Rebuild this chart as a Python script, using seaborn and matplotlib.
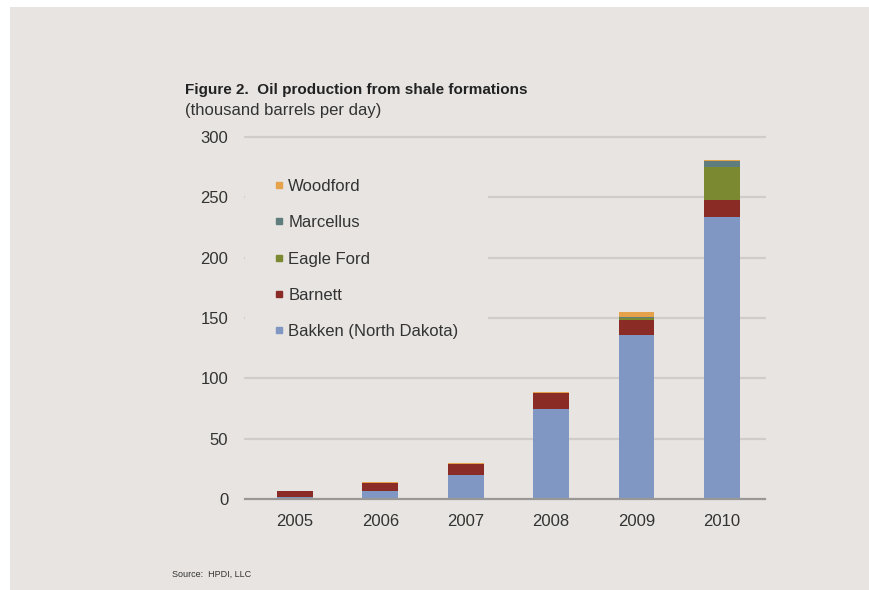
import numpy as np
import pandas as pd
import matplotlib
matplotlib.use("Agg")
import matplotlib.pyplot as plt
from matplotlib.lines import Line2D
from matplotlib.patches import Rectangle
import seaborn as sns

years = ["2005", "2006", "2007", "2008", "2009", "2010"]
bakken = [2, 7, 20, 75, 136, 234]
barnett = [5, 6, 9, 13, 12, 14]
eagle_ford = [0, 0, 0, 0, 2, 27]
marcellus = [0, 0, 0, 0, 1, 5]
woodford = [0, 1, 1, 1, 4, 1]

series = ["Bakken (North Dakota)", "Barnett", "Eagle Ford", "Marcellus", "Woodford"]
colors = ["#7f97c2", "#8a2b26", "#7b8a30", "#5e7d7c", "#e6a24a"]

df = pd.DataFrame({"year": years, "Bakken (North Dakota)": bakken, "Barnett": barnett,
                   "Eagle Ford": eagle_ford, "Marcellus": marcellus, "Woodford": woodford})

sns.set_style("white")
plt.rcParams["font.family"] = ["Liberation Sans", "DejaVu Sans"]

panel = "#e7e4e1"
txt = "#333333"

fig = plt.figure(figsize=(8.7, 5.9), dpi=100, facecolor="white")
fig.patches.append(Rectangle((10 / 870, 0), 1, 1 - 7 / 590, transform=fig.transFigure,
                             facecolor=panel, edgecolor="none", zorder=-5))

ax = fig.add_axes([245 / 870, 1 - 499 / 590, 520 / 870, 362 / 590])
ax.set_facecolor(panel)

bottom = np.zeros(len(years))
for name, col in zip(series, colors):
    sns.barplot(data=df, x="year", y=name, color=col, width=0.42, bottom=bottom,
                saturation=1, linewidth=0, ax=ax, zorder=3)
    bottom = bottom + df[name].to_numpy()

ax.set_ylim(0, 300)
ax.set_xlim(-0.585, 5.505)
ax.set_yticks([0, 50, 100, 150, 200, 250, 300])
ax.set_xlabel("")
ax.set_ylabel("")
for y in [50, 100, 150, 200, 250, 300]:
    ax.axhline(y, color="#cfccc9", lw=1.6, zorder=1, clip_on=False)
for s in ["top", "right", "left"]:
    ax.spines[s].set_visible(False)
ax.spines["bottom"].set_color("#9a9896")
ax.spines["bottom"].set_linewidth(1.6)
ax.spines["bottom"].set_zorder(4)
ax.tick_params(axis="y", length=0, pad=12, labelsize=12, labelcolor=txt)
ax.tick_params(axis="x", length=0, pad=11, labelsize=12, labelcolor=txt)
ax.set_xticks(np.arange(-0.5, 6, 1), minor=True)
ax.tick_params(axis="x", which="minor", length=4, width=1.2, color="#9a9896", direction="out")

handles = [Line2D([], [], marker="s", linestyle="none", markersize=5,
                  markerfacecolor=c, markeredgecolor=c) for c in colors]
leg = ax.legend(handles[::-1], series[::-1], loc="upper left", bbox_to_anchor=(0.0, 0.965),
                frameon=True, facecolor=panel, edgecolor="none", framealpha=1,
                fontsize=12, labelspacing=1.28, handletextpad=0.25, handlelength=0.6,
                borderpad=1.75, borderaxespad=0)
leg.set_zorder(5)
for t in leg.get_texts():
    t.set_color(txt)

fig.text(185 / 870, 1 - 90 / 590, "Figure 2.  Oil production from shale formations",
         fontsize=11, fontweight="bold", color="#222222", va="center")
fig.text(185 / 870, 1 - 111 / 590, "(thousand barrels per day)",
         fontsize=12, color=txt, va="center")
fig.text(172 / 870, 1 - 574 / 590, "Source:  HPDI, LLC", fontsize=6.5, color=txt, va="center")

fig.savefig("out.png", dpi=100, facecolor="white")
